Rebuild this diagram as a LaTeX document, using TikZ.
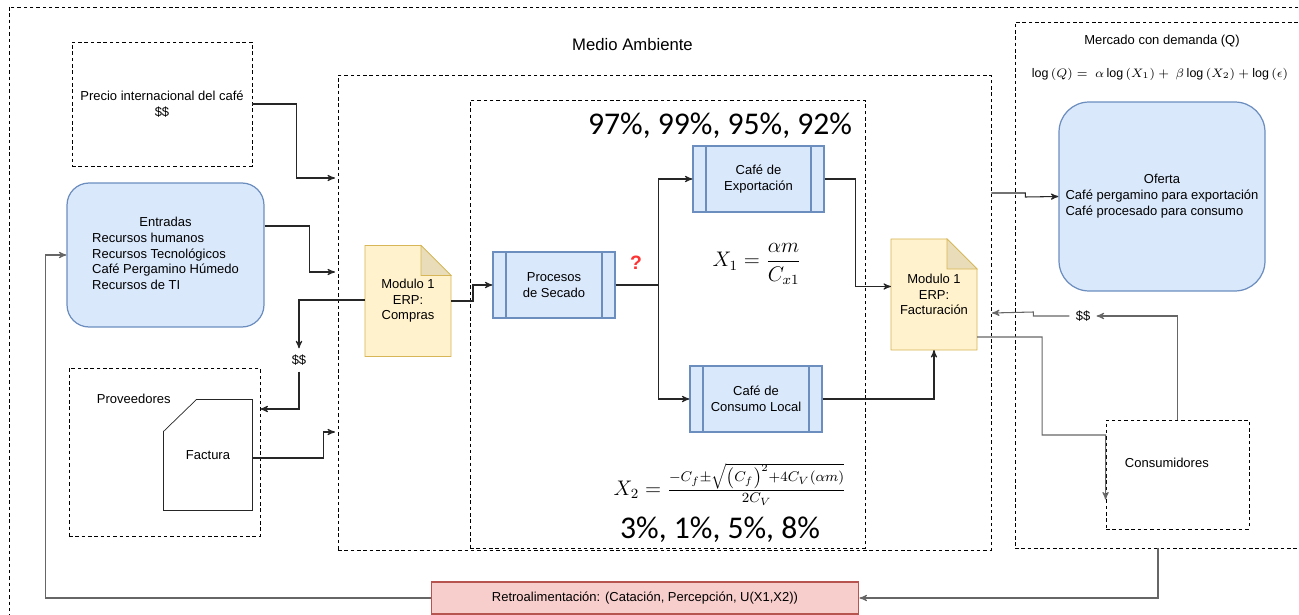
\documentclass[tikz,border=0pt]{standalone}
\usepackage{amsmath}
\usepackage{fontspec}
\setmainfont{Liberation Sans}
\newfontfamily\calibri{Carlito}
\usetikzlibrary{arrows, positioning, calc, backgrounds}

\definecolor{azulfondo}{HTML}{DAE8FC}
\definecolor{azulborde}{HTML}{6C8EBF}
\definecolor{amarillofondo}{HTML}{FFF2CC}
\definecolor{amarilloborde}{HTML}{D6B656}
\definecolor{pliegue}{HTML}{E9DDB9}
\definecolor{rojofondo}{HTML}{F8CECC}
\definecolor{rojoborde}{HTML}{B85450}
\definecolor{pregunta}{HTML}{FF3333}

\tikzset{
  punteada/.style={draw, dash pattern=on 2pt off 1.6pt, line width=0.5pt},
  redondeada/.style={draw=azulborde, fill=azulfondo, line width=0.7pt},
  proceso/.style={draw=azulborde, fill=azulfondo, line width=0.7pt,
    minimum height=1.32cm, align=center,
    path picture={
      \draw[azulborde, line width=0.7pt]
        ([xshift=0.26cm]path picture bounding box.north west) --
        ([xshift=0.26cm]path picture bounding box.south west);
      \draw[azulborde, line width=0.7pt]
        ([xshift=-0.26cm]path picture bounding box.north east) --
        ([xshift=-0.26cm]path picture bounding box.south east);}},
  nota/.style={minimum width=1.7cm, minimum height=2.2cm, align=center},
  flecha/.style={->, black!85},
  flechagris/.style={->, black!60},
  grande/.style={font=\calibri\fontsize{18}{20}\selectfont},
}

\begin{document}
\begin{tikzpicture}[x=0.02cm, y=-0.02cm, >=stealth', line width=0.6pt,
  font=\fontsize{7.4}{8.9}\selectfont]
\useasboundingbox (0,0) rectangle (1299,615);

% Marcos
\draw[punteada] (9,7) rectangle (1330,640);
\node[punteada, minimum width=13.06cm, minimum height=9.5cm] (medio) at (664.5,312.5) {};
\node[font=\fontsize{9.5}{11}\selectfont] (mediotxt) at ($(medio.north)+(-32,-30)$) {Medio Ambiente};
\node[punteada, minimum width=7.9cm, minimum height=8.96cm] (interno) at (667.5,324) {};
\node[punteada, minimum width=6.3cm, minimum height=10.52cm] (mercado) at (1172.5,285) {};
\node (mercadotxt) at (1162,41) {Mercado con demanda (Q)};
\node (logq) at (1160,74) {\fontsize{7.1}{9}\selectfont$\log\,(Q)=\ \alpha\log\,(X_1)+\ \beta\log\,(X_2)+\log\,(\epsilon)$};

% Entorno izquierdo
\node[punteada, minimum width=3.6cm, minimum height=2.48cm, align=center] (precio) at (162,104)
  {Precio internacional del café\\\$\$};
\node[redondeada, rounded corners=0.44cm, minimum width=3.94cm, minimum height=2.88cm] (entradas) at (165.5,255)
  {\begin{tabular}{@{}l@{}}\multicolumn{1}{@{}c@{}}{Entradas}\\Recursos humanos\\Recursos Tecnológicos\\Café Pergamino Húmedo\\Recursos de TI\end{tabular}};
\node[punteada, minimum width=3.82cm, minimum height=3.36cm] (proveedores) at (164.5,452) {};
\node[anchor=west] (provtxt) at ($(proveedores.north west)+(22,31)$) {Proveedores};
\node[minimum width=1.76cm, minimum height=2.2cm] (factura) at (208,455) {Factura};
\node (dinero1) at (299,360) {\$\$};

% Proceso
\node[nota] (compras) at (408,301) {Modulo 1\\ERP:\\Compras};
\node[proceso, minimum width=2.44cm] (procesos) at (554,285) {Procesos\\de Secado};
\node[font=\bfseries\fontsize{11}{12}\selectfont, text=pregunta] (duda) at (636,263) {?};
\node[proceso, minimum width=2.62cm] (export) at (758.5,179) {Café de\\Exportación};
\node[proceso, minimum width=2.64cm] (consumo) at (756,399) {Café de\\Consumo Local};
\node[nota] (fact) at (934,294.5) {Modulo 1\\ERP:\\Facturación};
\node[grande] (pctexp) at (720,126) {97\%, 99\%, 95\%, 92\%};
\node[grande] (pctloc) at (720,530) {3\%, 1\%, 5\%, 8\%};
\node (xuno) at (757,264) {\fontsize{12}{14}\selectfont$X_1=\dfrac{\alpha m}{C_{x1}}$};
\node (xdos) at (730,484) {\fontsize{12}{14}\selectfont$X_2=\frac{-C_f\pm\sqrt{\left(C_f\right)^2+4C_V(\alpha m)}}{2C_V}$};

% Mercado
\node[redondeada, rounded corners=0.6cm, minimum width=4.12cm, minimum height=3.78cm] (oferta) at (1162,196.5)
  {\begin{tabular}{@{}l@{}}\multicolumn{1}{@{}c@{}}{Oferta}\\Café pergamino para exportación\\Café procesado para consumo\end{tabular}};
\node (dinero2) at (1083,316) {\$\$};
\node[punteada, minimum width=2.86cm, minimum height=2.18cm] (consumidores) at (1177.5,474.5) {};
\node[anchor=west] (consumtxt) at ($(consumidores.west)+(13,-12)$) {Consumidores};
\node[draw=rojoborde, fill=rojofondo, minimum width=8.56cm, minimum height=0.64cm] (retro) at (645,598)
  {Retroalimentación: (Catación, Percepción, U(X1,X2))};

% Formas de documento
\begin{scope}[on background layer]
\draw[amarilloborde, fill=amarillofondo] (compras.north west) -- ($(compras.north east)+(-30,0)$)
  -- ($(compras.north east)+(0,30)$) -- (compras.south east) -- (compras.south west) -- cycle;
\draw[amarilloborde, fill=pliegue] ($(compras.north east)+(-30,0)$) -- ++(0,30) -- ++(30,0) -- cycle;
\draw[amarilloborde, fill=amarillofondo] (fact.north west) -- ($(fact.north east)+(-30,0)$)
  -- ($(fact.north east)+(0,30)$) -- (fact.south east) -- (fact.south west) -- cycle;
\draw[amarilloborde, fill=pliegue] ($(fact.north east)+(-30,0)$) -- ++(0,30) -- ++(30,0) -- cycle;
\draw[black!85] ($(factura.north west)+(0,32)$) -- ($(factura.north west)+(33,0)$)
  -- (factura.north east) -- (factura.south east) -- (factura.south west) -- cycle;
\end{scope}

% Puntos de entrada
\coordinate (inPrecio) at (335,178);
\coordinate (inEntradas) at (335,272);
\coordinate (inFactura) at (335,432);
\coordinate (inMedio) at (992,313);

% Conectores
\draw[flecha] (precio.east) -- ++(44,0) |- (inPrecio);
\draw[flecha] ($(entradas.east)+(0,-29)$) -- ++(45,0) |- (inEntradas);
\draw[flecha] ($(compras.west)+(0,-1)$) -| (dinero1.north);
\draw[flecha] (dinero1.south) |- ($(proveedores.east)+(0,-43)$);
\draw[flecha] ($(factura.east)+(0,3)$) -- ++(71,0) |- (inFactura);
\draw[flecha] (compras.east) -- ++(22,0) |- (procesos.west);
\draw[flecha] (procesos.east) -- ++(43,0) |- (export.west);
\draw[flecha] (procesos.east) -- ++(43,0) |- (consumo.west);
\draw[flecha] (export.east) -- ++(31,0) |- ($(fact.west)+(0,-8)$);
\draw[flecha] (consumo.east) -| (fact.south);
\draw[flecha] ($(medio.east)+(0,-119.5)$) -- ++(34,0) -- ++(0,4) -- (oferta.west);
\draw[flechagris] (consumidores.north) |- (dinero2.east);
\draw[flechagris] (dinero2.west) -- ++(-36,0) -- ++(0,-4) -- (inMedio);
\draw[flechagris] ($(fact.east)+(0,42.5)$) -| ++(65,98) -- ($(consumidores.west)+(0,-39.5)$)
  -- ($(consumidores.west)+(0,25)$);
\draw[flechagris] ($(mercado.south)+(-14.5,0)$) |- (retro.east);
\draw[flechagris] (retro.west) -- ++(-385,0) |- (entradas.west);
\end{tikzpicture}
\end{document}
